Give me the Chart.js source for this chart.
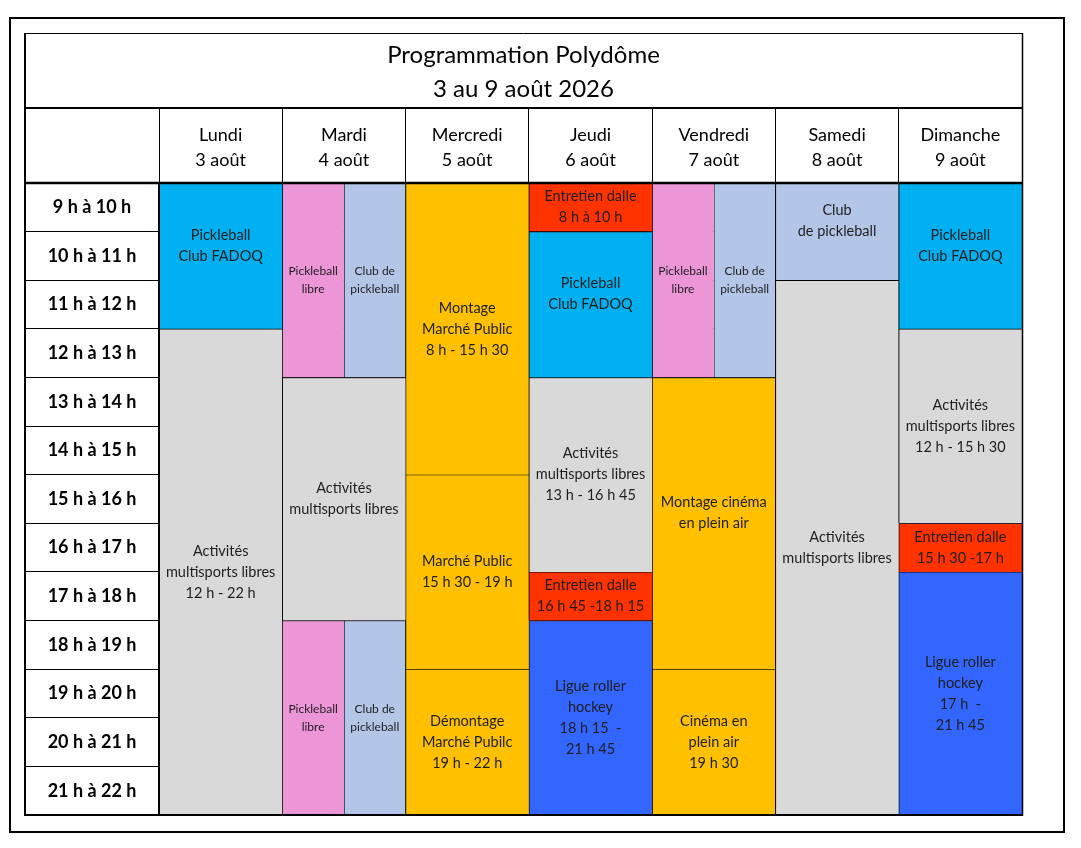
<!DOCTYPE html>
<html lang="fr">
<head>
<meta charset="utf-8">
<title>Programmation Polydôme</title>
<script src="https://cdn.jsdelivr.net/npm/chart.js@4.4.1/dist/chart.umd.min.js"></script>
<style>
  html, body { margin: 0; padding: 0; background: #fff; }
  #frame { position: absolute; left: 9px; top: 17px; width: 1056px; height: 816px; border: 2px solid #000; box-sizing: border-box; }
  #c { position: absolute; left: 0; top: 0; }
</style>
</head>
<body>
<div id="frame"></div>
<canvas id="c" width="1081" height="848"></canvas>
<script>
// ---------- DATA ----------
const titleLines = ['Programmation Polydôme', '3 au 9 août 2026'];
const days = [
  ['Lundi', '3 août'], ['Mardi', '4 août'], ['Mercredi', '5 août'], ['Jeudi', '6 août'],
  ['Vendredi', '7 août'], ['Samedi', '8 août'], ['Dimanche', '9 août']
];
const hours = ['9 h à 10 h', '10 h à 11 h', '11 h à 12 h', '12 h à 13 h', '13 h à 14 h',
  '14 h à 15 h', '15 h à 16 h', '16 h à 17 h', '17 h à 18 h', '18 h à 19 h',
  '19 h à 20 h', '20 h à 21 h', '21 h à 22 h'];
const firstHour = 9;
const lastHour = 22;

// full-width blocks: [start hour, end hour] per day
const fadoq = [[9, 12], null, null, [10, 13], null, null, [9, 12]];
const fadoqText = [['Pickleball', 'Club FADOQ', ''], null, null, ['Pickleball', 'Club FADOQ', ''], null, null, ['Pickleball', 'Club FADOQ', '']];

const multisports = [[12, 22], [13, 18], null, [13, 17], null, [11, 22], [12, 16]];
const multisportsText = [
  ['Activités', 'multisports libres', '12 h - 22 h'], ['Activités', 'multisports libres'], null,
  ['Activités', 'multisports libres', '13 h - 16 h 45'], null, ['Activités', 'multisports libres'],
  ['Activités', 'multisports libres', '12 h - 15 h 30']];

const entretienMatin = [null, null, null, [9, 10], null, null, null];
const entretienMatinText = [null, null, null, ['Entretien dalle', '8 h à 10 h'], null, null, null];

const entretienSoir = [null, null, null, [17, 18], null, null, [16, 17]];
const entretienSoirText = [null, null, null, ['Entretien dalle', '16 h 45 -18 h 15'], null, null, ['Entretien dalle', '15 h 30 -17 h']];

const montage = [null, null, [9, 15], null, [13, 19], null, null];
const montageText = [null, null, ['Montage', 'Marché Public', '8 h - 15 h 30'], null, ['Montage cinéma', 'en plein air', ''], null, null];

const evenement = [null, null, [15, 19], null, [19, 22], null, null];
const evenementText = [null, null, ['Marché Public', '15 h 30 - 19 h'], null, ['Cinéma en', 'plein air', '19 h 30'], null, null];

const demontage = [null, null, [19, 22], null, null, null, null];
const demontageText = [null, null, ['Démontage', 'Marché Pubilc', '19 h - 22 h'], null, null, null, null];

const roller = [null, null, null, [18, 22], null, null, [17, 22]];
const rollerText = [null, null, null, ['Ligue roller', 'hockey', '18 h 15  -', '21 h 45'], null, null, ['Ligue roller', 'hockey', '17 h  -', '21 h 45']];

const clubSamedi = [null, null, null, null, null, [9, 11], null];
const clubSamediText = [null, null, null, null, null, ['Club', 'de pickleball', ''], null];

// half-width blocks (left = pickleball libre, right = club de pickleball)
const libreMatin = [null, [9, 13], null, null, [9, 13], null, null];
const clubMatin = [null, [9, 13], null, null, [9, 13], null, null];
const libreSoir = [null, [18, 22], null, null, null, null, null];
const clubSoir = [null, [18, 22], null, null, null, null, null];
const libreLines = ['Pickleball', 'libre'];
const clubLines = ['Club de', 'pickleball'];

// ---------- STYLE ----------
const FONT = 'Lato';
const C = {
  cyan: '#00B0F0', gray: '#D9D9D9', red: '#FF3300', orange: '#FFC000',
  blue: '#3366FF', lightBlue: '#B4C6E7', pink: '#EC96D8'
};
const headerHeight = 75;
const hourColWidth = 134;
const hourFontSpec = { family: FONT, size: 18, weight: 'bold' };

const mctx = document.createElement('canvas').getContext('2d');
mctx.font = 'bold 18px ' + FONT;
const widestHour = Math.max(...hours.map(h => mctx.measureText(h).width));

function textsFor(data, lines) { return data.map(v => v ? lines : null); }

function fullDs(label, data, texts, color) {
  return {
    label, data, texts, backgroundColor: color,
    grouped: false, barPercentage: 1, categoryPercentage: 1,
    borderColor: '#000', borderWidth: { top: 1, left: 1, right: 0, bottom: 0 }, borderSkipped: false,
    textSize: 14.5, textLine: 21
  };
}
function halfDs(label, data, texts, color, stack) {
  return {
    label, data, texts, backgroundColor: color, stack,
    grouped: true, skipNull: true, barPercentage: 1, categoryPercentage: 1,
    borderColor: '#000', borderWidth: { top: 1, left: 1, right: 0, bottom: 0 }, borderSkipped: false,
    textSize: 12, textLine: 18
  };
}

const datasets = [
  fullDs('Pickleball Club FADOQ', fadoq, fadoqText, C.cyan),
  fullDs('Activités multisports libres', multisports, multisportsText, C.gray),
  fullDs('Entretien dalle (matin)', entretienMatin, entretienMatinText, C.red),
  fullDs('Entretien dalle', entretienSoir, entretienSoirText, C.red),
  fullDs('Montage', montage, montageText, C.orange),
  fullDs('Marché / Cinéma', evenement, evenementText, C.orange),
  fullDs('Démontage', demontage, demontageText, C.orange),
  fullDs('Ligue roller hockey', roller, rollerText, C.blue),
  fullDs('Club de pickleball', clubSamedi, clubSamediText, C.lightBlue),
  halfDs('Pickleball libre', libreMatin, textsFor(libreMatin, libreLines), C.pink, 'L'),
  halfDs('Club de pickleball (matin)', clubMatin, textsFor(clubMatin, clubLines), C.lightBlue, 'R'),
  halfDs('Pickleball libre (soir)', libreSoir, textsFor(libreSoir, libreLines), C.pink, 'L'),
  halfDs('Club de pickleball (soir)', clubSoir, textsFor(clubSoir, clubLines), C.lightBlue, 'R')
];

// ---------- PLUGINS ----------
const cellText = {
  id: 'cellText',
  afterDatasetsDraw(chart) {
    const ctx = chart.ctx;
    ctx.save();
    ctx.textAlign = 'center';
    ctx.textBaseline = 'middle';
    ctx.fillStyle = '#1e1e1e';
    chart.data.datasets.forEach((ds, di) => {
      const meta = chart.getDatasetMeta(di);
      ctx.font = ds.textSize + 'px ' + FONT;
      meta.data.forEach((el, i) => {
        const lines = ds.texts && ds.texts[i];
        if (!lines || !ds.data[i]) return;
        const p = el.getProps(['x', 'y', 'base'], true);
        const yc = (p.y + p.base) / 2;
        const n = lines.length;
        lines.forEach((t, k) => {
          ctx.fillText(t, p.x, yc + (k - (n - 1) / 2) * ds.textLine);
        });
      });
    });
    ctx.restore();
  }
};

const tableFrame = {
  id: 'tableFrame',
  afterDraw(chart) {
    const { ctx, chartArea, scales } = chart;
    const left = scales.hours.left;
    const right = chartArea.right;
    const headTop = scales.x.top;
    const top = chart.titleBlock ? chart.titleBlock.top : headTop - headerHeight;
    const bodyTop = chartArea.top, bottom = chartArea.bottom;
    const line = (x1, y1, x2, y2, w) => {
      ctx.lineWidth = w; ctx.beginPath(); ctx.moveTo(x1, y1); ctx.lineTo(x2, y2); ctx.stroke();
    };
    ctx.save();
    ctx.strokeStyle = '#000';
    line(left - 1, top + 0.5, right + 1, top + 0.5, 1);
    line(right + 0.5, top, right + 0.5, bottom + 1, 1.5);
    line(left, top, left, bottom + 1, 2);
    line(left - 1, headTop, right + 1, headTop, 2);
    line(left - 1, bodyTop, right + 1, bodyTop, 2.5);
    line(left - 1, bottom, right + 1, bottom, 2);
    line(chartArea.left, bodyTop, chartArea.left, bottom, 2);
    ctx.restore();
  }
};

// ---------- CHART ----------
new Chart(document.getElementById('c'), {
  type: 'bar',
  data: { labels: days, datasets },
  options: {
    responsive: false,
    animation: false,
    devicePixelRatio: 1,
    layout: { padding: { left: 25, top: 33, right: 59, bottom: 33 } },
    plugins: {
      legend: { display: false },
      tooltip: { enabled: false },
      title: {
        display: true,
        text: titleLines,
        color: '#000',
        font: { family: FONT, size: 24, weight: 'normal', lineHeight: '34px' },
        padding: { top: 5, bottom: 2 }
      }
    },
    scales: {
      x: {
        type: 'category',
        position: 'top',
        offset: true,
        grid: { offset: true, color: '#000', lineWidth: 1, drawTicks: true, tickLength: headerHeight, tickColor: '#000', tickWidth: 1 },
        border: { display: true, color: '#000', width: 2 },
        ticks: {
          color: '#000', maxRotation: 0, autoSkip: false,
          font: { family: FONT, size: 18, lineHeight: '25px' },
          padding: -64.5
        },
        afterFit(scale) { scale.height = headerHeight; }
      },
      y: {
        type: 'linear',
        display: false,
        stacked: false,
        min: firstHour,
        max: lastHour,
        reverse: true
      },
      hours: {
        type: 'category',
        labels: hours,
        position: 'left',
        offset: true,
        grid: { offset: true, color: '#000', lineWidth: 1, drawTicks: true, tickLength: hourColWidth, tickColor: '#000', tickWidth: 1 },
        border: { display: true, color: '#000', width: 2 },
        ticks: {
          color: '#000', autoSkip: false, crossAlign: 'center',
          font: hourFontSpec,
          padding: -hourColWidth / 2 - widestHour / 2
        },
        afterFit(scale) { scale.width = hourColWidth; }
      }
    }
  },
  plugins: [cellText, tableFrame]
});
</script>
</body>
</html>
